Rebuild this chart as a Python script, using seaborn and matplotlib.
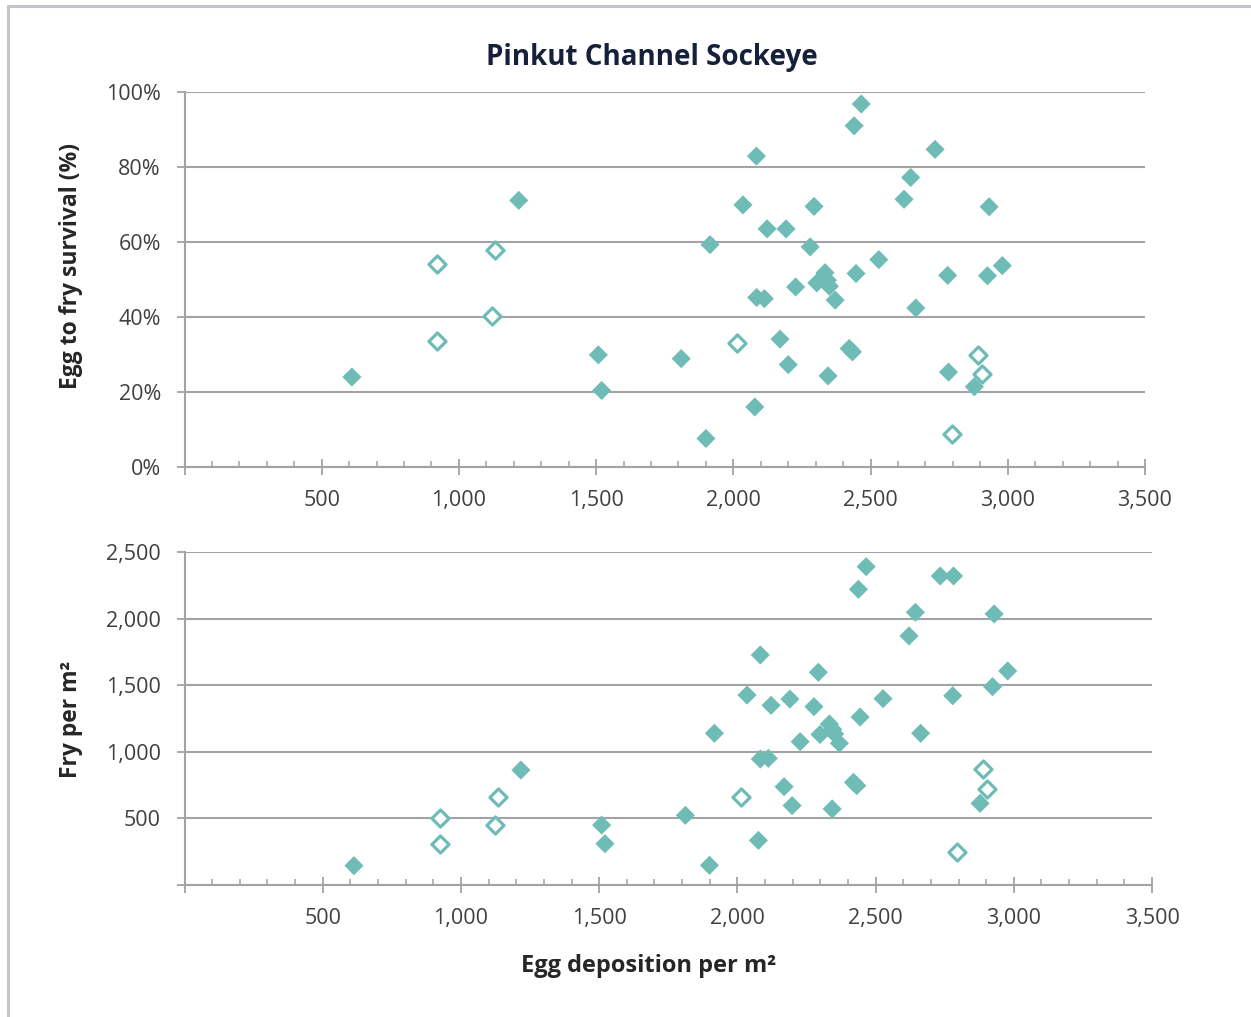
import matplotlib
matplotlib.use("Agg")
import matplotlib.pyplot as plt
from matplotlib.lines import Line2D
from matplotlib.ticker import FixedLocator, MultipleLocator, FuncFormatter
import seaborn as sns
import pandas as pd

# ---------------- data ----------------
# Top panel: egg-to-fry survival (%)
egg_surv_filled = [610, 1218, 1508, 1520, 1810, 1900, 1915, 2035, 2078, 2084, 2085,
                   2113, 2123, 2170, 2192, 2200, 2227, 2280, 2294, 2304, 2334, 2343,
                   2350, 2371, 2345, 2422, 2434, 2440, 2447, 2466, 2530, 2622, 2646,
                   2665, 2735, 2781, 2784, 2878, 2926, 2932, 2980]
surv_filled = [24.0, 71.1, 29.9, 20.4, 28.9, 7.6, 59.3, 69.9, 16.0, 82.9, 45.2,
               44.9, 63.5, 34.1, 63.5, 27.3, 48.0, 58.7, 69.5, 49.1, 51.8, 49.8,
               48.2, 44.5, 24.3, 31.6, 30.7, 91.0, 51.6, 96.8, 55.3, 71.4, 77.2,
               42.4, 84.7, 51.1, 25.3, 21.4, 51.0, 69.4, 53.7]
egg_surv_open = [920, 920, 1121, 1133, 2013, 2797, 2893, 2907]
surv_open = [54.1, 33.7, 40.3, 57.9, 33.0, 8.7, 29.9, 24.7]

# Bottom panel: fry per m2
egg_fry_filled = [613, 1217, 1509, 1521, 1812, 1899, 1917, 2035, 2076, 2083, 2083,
                  2112, 2122, 2169, 2190, 2198, 2227, 2277, 2293, 2299, 2333, 2345,
                  2352, 2369, 2343, 2420, 2432, 2438, 2444, 2466, 2527, 2621, 2644,
                  2663, 2734, 2779, 2782, 2878, 2923, 2929, 2978]
fry_filled = [145, 863, 450, 310, 523, 148, 1139, 1426, 335, 1727, 946,
              951, 1349, 738, 1396, 596, 1076, 1339, 1597, 1130, 1209, 1168,
              1134, 1064, 571, 771, 746, 2220, 1261, 2390, 1399, 1870, 2047,
              1139, 2320, 1421, 2320, 613, 1489, 2035, 1607]
egg_fry_open = [923, 923, 1123, 1134, 2013, 2794, 2889, 2904]
fry_open = [501, 310, 453, 658, 663, 245, 868, 721]

x_ticks = [0, 500, 1000, 1500, 2000, 2500, 3000, 3500]
surv_ticks = [0, 20, 40, 60, 80, 100]
fry_ticks = [0, 500, 1000, 1500, 2000, 2500]

title = "Pinkut Channel Sockeye"
ylabel_top = "Egg to fry survival (%)"
ylabel_bot = "Fry per m²"
xlabel = "Egg deposition per m²"

# ---------------- styling ----------------
sns.set_theme(style="white")
plt.rcParams['font.family'] = ['Open Sans', 'DejaVu Sans']

TEAL = "#6fbcb6"
GRID = "#a3a3a6"
TICKC = "#404040"
LABC = "#262626"
TITLEC = "#16203a"

W, H = 1251, 1017
fig = plt.figure(figsize=(W / 100, H / 100), dpi=100)
fig.patch.set_facecolor("white")

def fx(px):
    return px / W

def fy(py):
    return 1 - py / H

ax1 = fig.add_axes([fx(184.5), fy(467), fx(1145) - fx(184.5), fy(92) - fy(467)])
ax2 = fig.add_axes([fx(184.5), fy(885), fx(1152) - fx(184.5), fy(552) - fy(885)])

df_s_f = pd.DataFrame({"egg": egg_surv_filled, "val": surv_filled})
df_s_o = pd.DataFrame({"egg": egg_surv_open, "val": surv_open})
df_f_f = pd.DataFrame({"egg": egg_fry_filled, "val": fry_filled})
df_f_o = pd.DataFrame({"egg": egg_fry_open, "val": fry_open})

MS = 95
for ax, dff, dfo in [(ax1, df_s_f, df_s_o), (ax2, df_f_f, df_f_o)]:
    sns.scatterplot(data=dff, x="egg", y="val", ax=ax, marker="D", s=MS,
                    color=TEAL, edgecolor="none", linewidth=0, zorder=3)
    sns.scatterplot(data=dfo, x="egg", y="val", ax=ax, marker="D", s=MS * 0.8,
                    facecolor="white", edgecolor=TEAL, linewidth=2.3, zorder=3)

def style_axis(ax, yticks, yfmt):
    ax.set_xlim(0, 3500)
    ax.set_ylim(yticks[0], yticks[-1])
    ax.xaxis.set_major_locator(FixedLocator(x_ticks))
    ax.xaxis.set_minor_locator(MultipleLocator(100))
    ax.xaxis.set_major_formatter(FuncFormatter(lambda v, p: "" if v == 0 else f"{int(v):,}"))
    ax.yaxis.set_major_locator(FixedLocator(yticks))
    ax.yaxis.set_major_formatter(FuncFormatter(yfmt))
    for s in ["top", "right"]:
        ax.spines[s].set_visible(False)
    for s in ["left", "bottom"]:
        ax.spines[s].set_color(GRID)
        ax.spines[s].set_linewidth(1.5)
    ax.grid(axis="y", color=GRID, linewidth=1.5, zorder=0)
    ax.grid(axis="x", visible=False)
    ax.set_axisbelow(True)
    ax.tick_params(axis="x", which="major", direction="inout", length=11, width=1.3,
                   color=GRID, labelsize=15.5, labelcolor=TICKC, pad=11, bottom=True)
    ax.tick_params(axis="x", which="minor", direction="in", length=4, width=1.1,
                   color=GRID, bottom=True)
    ax.tick_params(axis="y", which="major", direction="out", length=6, width=1.3,
                   color=GRID, labelsize=15.5, labelcolor=TICKC, pad=11, left=True)
    ax.set_xlabel("")
    ax.set_ylabel("")

style_axis(ax1, surv_ticks, lambda v, p: f"{int(v)}%")
style_axis(ax2, fry_ticks, lambda v, p: "" if v == 0 else f"{int(v):,}")

fig.text(fx(652), fy(58), title, ha="center", va="center", fontsize=20,
         fontweight="bold", color=TITLEC)
fig.text(fx(71), fy(266), ylabel_top, ha="center", va="center", rotation=90,
         fontsize=16.5, fontweight="bold", color=LABC)
fig.text(fx(71), fy(719), ylabel_bot, ha="center", va="center", rotation=90,
         fontsize=16.5, fontweight="bold", color=LABC)
fig.text(fx(649), fy(966), xlabel, ha="center", va="center",
         fontsize=17, fontweight="bold", color=LABC)

# outer frame (left and top edges visible in the reference)
fig.add_artist(Line2D([fx(8), fx(8)], [fy(1017), fy(6)], transform=fig.transFigure,
                      color="#c4c4ca", linewidth=2.2))
fig.add_artist(Line2D([fx(8), fx(1251)], [fy(6), fy(6)], transform=fig.transFigure,
                      color="#c4c4ca", linewidth=2.2))

fig.savefig("out.png", dpi=100, facecolor="white")
